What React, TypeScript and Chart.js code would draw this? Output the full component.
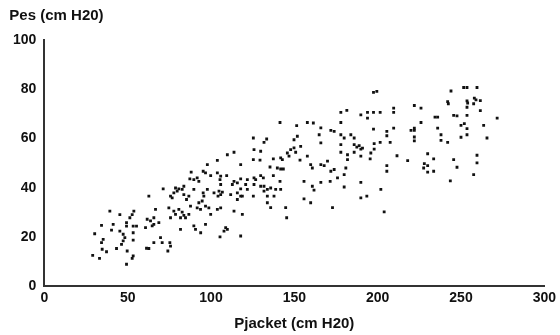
import React, { useEffect, useRef } from "react";
import { Chart, registerables } from "chart.js";

Chart.register(...registerables);

// Pjacket (cm H2O) values
const pjacket: number[] = [
  29.0, 33.1, 30.2, 34.3, 35.3, 34.3, 34.7, 37.3, 39.3, 40.3, 41.3, 43.3, 45.3, 45.3, 46.3, 47.3, 48.3, 47.3, 49.3, 49.3,
  49.7, 51.3, 52.7, 53.7, 53.3, 53.3, 53.3, 53.3, 52.7, 49.3, 55.3, 61.3, 62.7, 65.7, 70.7, 74.1, 75.3, 75.7,
  113.8, 109.8, 103.8, 97.8, 117.8, 88.1, 95.3, 96.7, 103.8, 87.3, 89.7, 91.7, 92.7, 99.8, 105.8, 105.4, 105.8, 109.4,
  113.8, 115.8, 112.8, 97.8, 101.8, 104.8, 106.8, 105.8, 104.2, 71.3, 78.7, 80.7, 77.7, 82.7, 79.7, 83.7, 89.7, 95.3,
  62.7, 75.7, 76.7, 83.7, 85.3, 86.7, 92.7, 94.7, 95.7, 111.8, 115.8, 117.8, 115.8, 66.7, 74.7, 77.7, 80.7, 82.7, 83.7,
  86.7, 87.7, 91.7, 93.7, 96.7, 98.7, 99.8, 103.8, 105.8, 61.7, 63.7, 65.7, 65.7, 68.7, 64.7, 60.7, 75.7, 78.7, 81.7,
  84.7, 89.7, 90.7, 96.7, 81.7, 108.8, 109.8, 107.8, 113.8, 118.8, 117.8, 69.7,
  93.8, 105.4, 145.4,
  141.4, 151.4, 157.8, 161.4, 165.9, 171.9, 173.9, 125.4, 133.4, 131.8, 149.8, 151.8, 164.9, 165.9, 125.8, 129.8, 147.8,
  149.8, 150.8, 153.8, 145.8, 125.4, 129.4, 137.4, 141.8, 142.8, 146.8, 153.4, 157.8, 159.8, 160.8, 165.9, 167.9, 169.9,
  171.9, 173.9, 135.4, 139.8, 141.8, 143.4, 137.4, 141.4, 117.8, 121.8, 125.8, 126.8, 129.8, 131.4, 125.8, 129.8, 131.8,
  120.8, 121.8, 117.8, 125.4, 118.8, 133.8, 135.8, 138.8, 141.8, 131.8, 133.8, 137.8, 155.8, 160.8, 161.8, 165.9, 171.5,
  175.9, 155.8, 159.8, 172.9, 133.8, 144.8, 135.8,
  197.5, 199.5, 222.0, 226.0, 177.9, 181.5, 189.9, 193.9, 193.9, 197.5, 201.5, 209.6, 209.6, 234.4, 236.0, 177.9, 226.0,
  197.5, 205.5, 205.5, 209.6, 220.0, 222.0, 222.0, 236.0, 177.9, 179.9, 183.9, 185.9, 222.0, 222.0, 177.9, 185.9, 187.5,
  188.9, 190.9, 189.9, 197.9, 197.9, 201.5, 207.5, 177.9, 181.9, 181.9, 185.9, 189.9, 195.9, 195.5, 211.6, 218.0, 230.0,
  233.6, 228.0, 230.0, 227.6, 230.0, 233.6, 205.5, 205.5, 180.9, 179.9, 189.9, 179.9, 201.9, 193.5, 189.9, 203.9,
  244.0, 251.6, 253.6, 259.6, 242.0, 242.4, 253.6, 254.0, 258.0, 259.0, 261.6, 257.6, 253.6, 261.6, 245.6, 247.6, 253.6,
  271.7, 250.0, 252.0, 253.6, 263.6, 238.0, 238.0, 242.0, 250.0, 253.6, 265.6, 259.6, 245.6, 259.6, 247.6, 257.6, 243.6,
];

// Pes (cm H2O) values, same order as pjacket
const pes: number[] = [
  12.5, 11.3, 21.3, 24.7, 19.0, 17.7, 15.0, 14.0, 30.5, 22.8, 25.1, 15.3, 29.1, 22.4, 17.0, 21.1, 19.7, 18.4, 24.4, 25.8,
  14.3, 27.8, 29.1, 30.5, 24.4, 21.7, 18.7, 12.3, 11.3, 8.9, 24.4, 15.4, 15.3, 17.7, 17.7, 14.3, 17.7, 16.3,
  54.4, 53.4, 51.1, 49.4, 49.4, 46.3, 46.7, 46.0, 46.0, 43.6, 43.3, 44.0, 42.6, 44.9, 44.7, 43.3, 41.3, 44.9,
  42.6, 42.0, 41.3, 39.3, 37.9, 38.6, 38.2, 37.2, 36.6, 39.5, 39.9, 39.5, 37.9, 39.3, 38.6, 40.6, 39.3, 37.9,
  36.6, 36.6, 35.9, 37.2, 35.2, 36.6, 33.9, 34.6, 36.6, 37.2, 37.9, 36.6, 35.2, 31.2, 31.8, 30.5, 31.2, 30.1, 28.8,
  29.2, 32.5, 31.8, 31.2, 32.5, 31.8, 29.2, 31.2, 31.8, 27.2, 26.5, 27.8, 25.1, 25.8, 24.5, 23.8, 27.8, 29.2, 27.8,
  27.8, 24.5, 23.1, 25.1, 23.1, 23.8, 23.1, 22.4, 30.5, 29.2, 20.4, 19.7,
  21.7, 20.0, 27.8,
  66.5, 65.2, 66.5, 66.3, 64.3, 63.3, 62.9, 60.2, 59.8, 58.4, 59.5, 60.9, 61.5, 58.2, 55.5, 54.8, 55.5,
  56.2, 54.4, 56.8, 54.1, 51.4, 51.2, 51.7, 52.1, 51.4, 52.8, 51.2, 52.8, 49.4, 48.0, 49.4, 49.0, 50.8,
  46.7, 47.4, 48.4, 48.0, 47.6, 47.6, 44.9, 42.6, 43.6, 43.3, 44.0, 43.3, 44.9, 44.0, 41.3, 40.6, 40.6,
  41.3, 39.3, 39.5, 36.6, 36.6, 39.3, 39.9, 39.3, 39.3, 38.6, 36.6, 36.6, 42.6, 40.6, 39.0, 42.2, 42.6,
  44.0, 35.5, 33.9, 31.9, 33.9, 31.9, 31.9,
  78.7, 79.1, 73.4, 72.3, 70.6, 71.4, 69.6, 70.6, 68.3, 70.6, 70.6, 72.3, 70.6, 68.7, 68.7, 66.5, 66.5,
  63.8, 62.9, 61.1, 64.2, 63.3, 64.2, 63.3, 64.2, 61.5, 60.2, 61.5, 60.2, 60.6, 59.0, 57.5, 57.5, 56.5,
  57.1, 56.1, 55.7, 57.9, 55.7, 58.4, 58.4, 54.4, 53.4, 51.4, 54.4, 52.8, 54.1, 51.7, 53.0, 51.0, 53.8,
  51.7, 49.8, 49.0, 48.0, 46.3, 46.7, 49.0, 46.7, 48.0, 45.3, 42.2, 40.3, 39.3, 36.6, 35.9, 30.2,
  79.3, 80.7, 80.7, 80.7, 75.0, 74.1, 75.3, 74.4, 76.4, 75.7, 75.4, 74.1, 72.7, 71.3, 69.4, 69.2, 69.4,
  68.3, 65.3, 66.0, 64.0, 65.3, 61.5, 59.2, 58.4, 60.5, 61.5, 60.2, 53.2, 51.4, 50.1, 48.3, 45.3, 42.8,
];

const xTicks: number[] = [0, 50, 100, 150, 200, 250, 300];
const yTicks: number[] = [0, 20, 40, 60, 80, 100];
const xTitle = "Pjacket (cm H20)";
const yTitle = "Pes (cm H20)";

const FONT = "'Liberation Sans', Arial, sans-serif";

export default function App() {
  const ref = useRef<HTMLCanvasElement | null>(null);

  useEffect(() => {
    if (!ref.current) return;
    const points = pjacket.map((x, i) => ({ x, y: pes[i] }));
    const yTitlePlugin = {
      id: "yTitle",
      afterDraw(chart: any) {
        const ctx = chart.ctx;
        const area = chart.chartArea;
        ctx.save();
        ctx.fillStyle = "#111";
        ctx.font = `bold 15px ${FONT}`;
        ctx.textAlign = "left";
        ctx.textBaseline = "middle";
        ctx.fillText(yTitle, area.left - 35, area.top - 24);
        ctx.restore();
      },
    };
    const chart = new Chart(ref.current, {
      type: "scatter",
      data: {
        datasets: [
          {
            data: points,
            backgroundColor: "#111",
            borderWidth: 0,
            pointStyle: "rect",
            pointRadius: 2,
            pointHoverRadius: 2,
          },
        ],
      },
      options: {
        animation: false,
        responsive: false,
        maintainAspectRatio: false,
        layout: { padding: { left: 5, right: 8, top: 40, bottom: 0 } },
        plugins: {
          legend: { display: false },
          tooltip: { enabled: false },
          title: { display: false },
        },
        scales: {
          x: {
            type: "linear",
            min: 0,
            max: 300,
            afterBuildTicks: (s: any) => {
              s.ticks = xTicks.map((v) => ({ value: v }));
            },
            grid: { display: false, drawTicks: false },
            border: { display: true, color: "#333", width: 2 },
            ticks: {
              color: "#111",
              font: { family: FONT, weight: "bold", size: 14 },
              padding: 4,
              maxRotation: 0,
            },
            title: {
              display: true,
              text: xTitle,
              color: "#111",
              font: { family: FONT, weight: "bold", size: 15 },
              padding: { top: 4, bottom: 2 },
            },
          },
          y: {
            type: "linear",
            min: 0,
            max: 100,
            afterBuildTicks: (s: any) => {
              s.ticks = yTicks.map((v) => ({ value: v }));
            },
            grid: { display: false, drawTicks: false },
            border: { display: true, color: "#333", width: 2 },
            ticks: {
              color: "#111",
              font: { family: FONT, weight: "bold", size: 14 },
              padding: 8,
            },
          },
        },
      },
      plugins: [yTitlePlugin],
    });
    return () => chart.destroy();
  }, []);

  return (
    <div style={{ position: "absolute", left: 0, top: 0, width: 560, height: 335, background: "#fff" }}>
      <canvas ref={ref} width={560} height={335} style={{ width: 560, height: 335 }} />
    </div>
  );
}
